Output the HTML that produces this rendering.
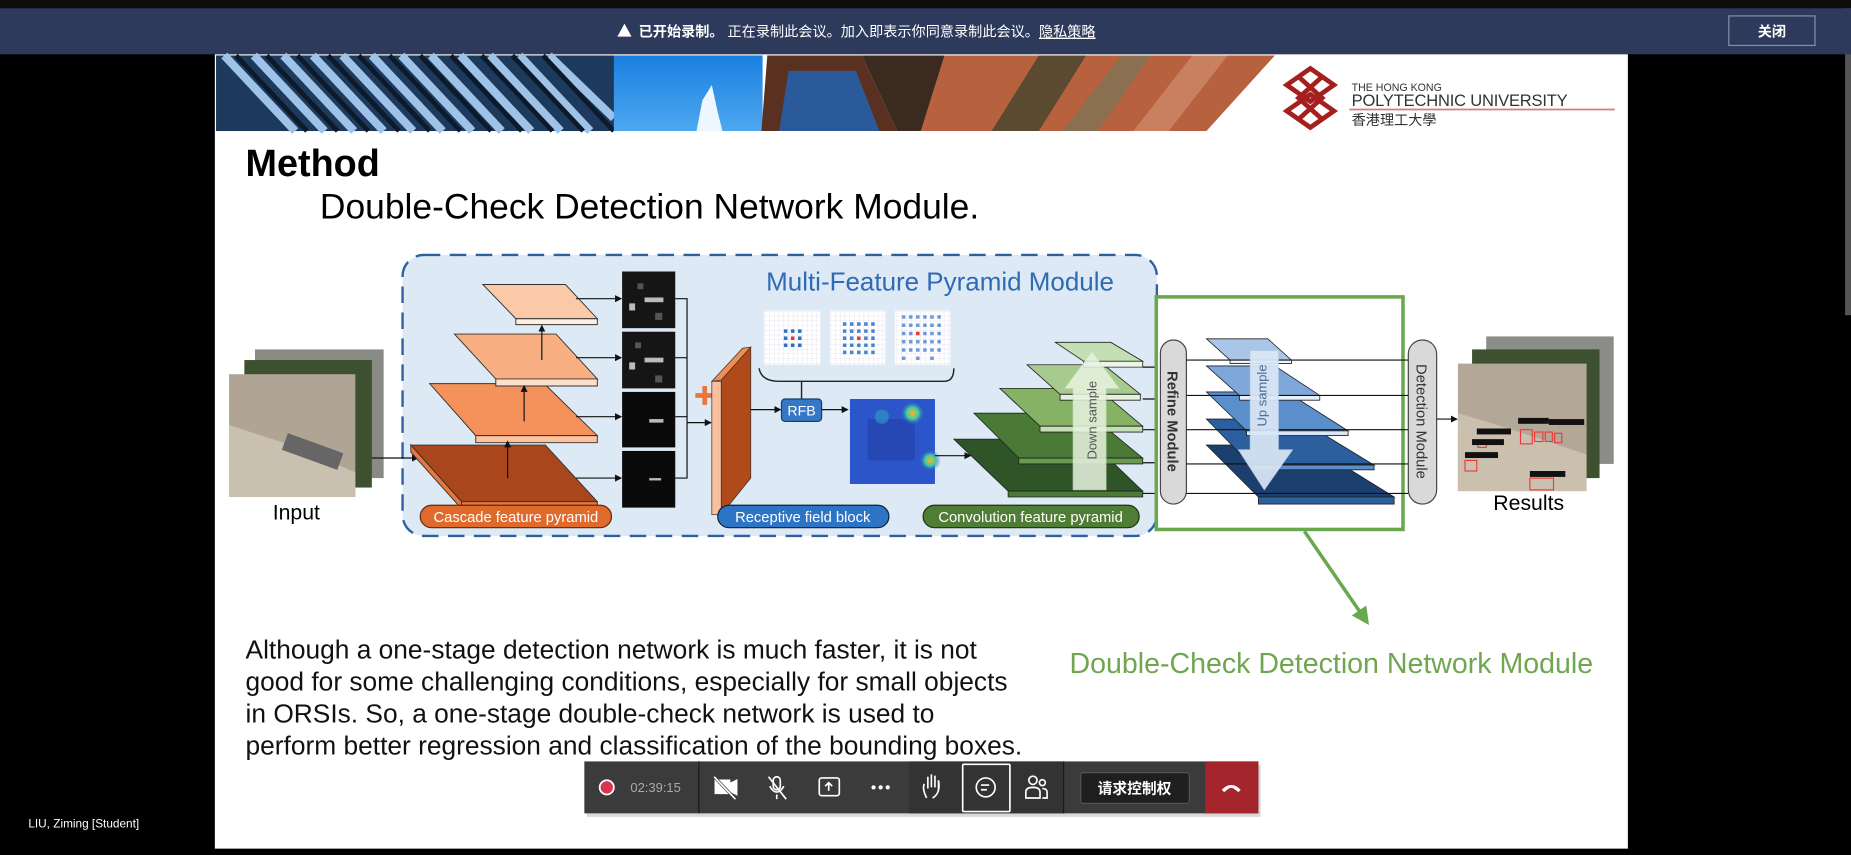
<!DOCTYPE html>
<html><head><meta charset="utf-8"><style>
html,body{margin:0;padding:0;background:#000;width:1851px;height:849px;overflow:hidden}
#w{width:1568px;height:719px;transform:scale(1.18048);transform-origin:0 0;position:absolute;left:0;top:0}
svg text{font-family:"Liberation Sans","Noto Sans CJK SC",sans-serif}
</style></head><body><div id="w">
<svg width="1568" height="719" viewBox="0 0 1568 719" xmlns="http://www.w3.org/2000/svg">
<defs>
<pattern id="grid" width="4" height="4" patternUnits="userSpaceOnUse"><rect width="4" height="4" fill="#fff"/><path d="M4 0V4H0" fill="none" stroke="#dde" stroke-width="0.6"/></pattern>
<radialGradient id="hb1" cx="0.5" cy="0.5" r="0.5"><stop offset="0" stop-color="#ffb020"/><stop offset="0.5" stop-color="#40d0a0"/><stop offset="1" stop-color="#2f5fd0" stop-opacity="0"/></radialGradient>
<linearGradient id="sky" x1="0" y1="0" x2="0" y2="1"><stop offset="0" stop-color="#1a7fe0"/><stop offset="1" stop-color="#4ea8f0"/></linearGradient>
<marker id="ar" markerWidth="6" markerHeight="6" refX="5" refY="3" orient="auto"><path d="M0 0L6 3L0 6Z" fill="#111"/></marker>
<marker id="ag" markerWidth="5" markerHeight="5" refX="4" refY="2.5" orient="auto"><path d="M0 0L5 2.5L0 5Z" fill="#6aa84f"/></marker>
</defs>
<rect width="1568" height="719" fill="#000"/>
<rect x="0" y="0" width="1568" height="7" fill="#0c0c0c"/>
<rect x="1563" y="7" width="5" height="260" fill="#555"/>
<rect x="0" y="7" width="1568" height="39" fill="#2e3a5c"/>
<path d="M523 31L529 20L535 31Z" fill="#fff"/>
<text x="541" y="31" font-size="12" fill="#fff"><tspan font-weight="bold">已开始录制。</tspan> 正在录制此会议。加入即表示你同意录制此会议。<tspan text-decoration="underline">隐私策略</tspan></text>
<rect x="1464.5" y="13.5" width="73" height="25" fill="none" stroke="#8890a8"/>
<text x="1501" y="31" font-size="12" fill="#fff" text-anchor="middle" font-weight="bold">关闭</text>
<rect x="182" y="46" width="1197" height="673" fill="#fff"/>
<rect x="183" y="47" width="340" height="64" fill="#1d3a5c"/>
<g stroke-width="7" fill="none">
<path d="M190 47L250 111M215 47L275 111M240 47L300 111M265 47L325 111M290 47L350 111M315 47L375 111M340 47L400 111M365 47L425 111M390 47L450 111M415 47L475 111M440 47L500 111M465 47L520 100" stroke="#9fc3e8"/>
<path d="M200 47L260 111M226 47L286 111M252 47L312 111M278 47L338 111M304 47L364 111M330 47L390 111M356 47L416 111M382 47L442 111M408 47L468 111M434 47L494 111M460 47L520 111" stroke="#0c1a2a" stroke-width="4"/>
</g>
<rect x="520" y="47" width="126" height="64" fill="url(#sky)"/>
<path d="M590 111L595 85L603 72L608 95L612 111Z" fill="#eef6ff"/>
<path d="M645 111L650 47L730 47L760 111Z" fill="#5a3020"/>
<path d="M660 111L668 60L725 60L745 111Z" fill="#2a5a9a"/>
<path d="M730 47L800 47L810 111L760 111Z" fill="#3a2a20"/>
<path d="M800 47L1080 47L1022 111L780 111Z" fill="#b8613e"/>
<path d="M840 111L880 47L920 47L880 111Z" fill="#5a4a30"/>
<path d="M900 111L950 47L975 47L930 111Z" fill="#8a7050"/>
<path d="M960 111L1010 47L1040 47L990 111Z" fill="#c98060"/>
<g fill="none" stroke="#a51f1f" stroke-width="4">
<path d="M1110 58L1130 72L1110 86L1090 72Z"/><path d="M1110 80L1130 94L1110 108L1090 94Z"/>
<path d="M1100 65L1120 83L1100 101M1120 65L1100 83L1120 101"/>
</g>
<text x="1145" y="77" font-size="9" fill="#333" font-family="Liberation Serif">THE HONG KONG</text>
<text x="1145" y="90" font-size="14" fill="#333" font-family="Liberation Serif" textLength="183">POLYTECHNIC UNIVERSITY</text>
<rect x="1143" y="92" width="225" height="1.5" fill="#d08080"/>
<text x="1145" y="106" font-size="12" fill="#333" font-family="Liberation Serif,Noto Serif CJK SC,serif">香港理工大學</text>
<text x="208" y="149" font-size="32" font-weight="bold" fill="#000">Method</text>
<text x="271" y="185" font-size="30" fill="#000">Double-Check Detection Network Module.</text>
<rect x="341" y="216" width="639" height="238" rx="18" fill="#dde9f5" stroke="#2e5fa0" stroke-width="2" stroke-dasharray="14 8"/>
<text x="649" y="246" font-size="22" fill="#2f6bb5">Multi-Feature Pyramid Module</text>
<rect x="216" y="296" width="109" height="109" fill="#8a8a85"/>
<rect x="207" y="305" width="108" height="108" fill="#3d5030"/>
<rect x="194" y="317" width="107" height="104" fill="#b0a594"/>
<path d="M194 360L240 375L301 400L301 421L194 421Z" fill="#c9c0b0"/>
<rect x="240" y="375" width="50" height="15" fill="#666" transform="rotate(20 265 382)"/>
<text x="231" y="440" font-size="18" fill="#000">Input</text>
<line x1="315" y1="388" x2="354" y2="388" stroke="#111" marker-end="url(#ar)"/>
<g stroke="#333" stroke-width="0.8">
<path d="M348 377L462 377L506 425L391 425Z" fill="#a9461c"/><path d="M391 425L506 425L506 431L391 431Z" fill="#e8763d"/><path d="M348 377L391 425L391 431L348 383Z" fill="#e8763d"/>
<path d="M364 325L461 325L506 369L403 369Z" fill="#f5925c"/><path d="M403 369L506 369L506 375L403 375Z" fill="#fbc39f"/>
<path d="M385 283L471 283L506 321L420 321Z" fill="#f8b083"/><path d="M420 321L506 321L506 327L420 327Z" fill="#fde0cc"/>
<path d="M409 241L479 241L506 270L437 270Z" fill="#fbc9a8"/><path d="M437 270L506 270L506 275L437 275Z" fill="#fff0e4"/>
</g>
<g stroke="#111" marker-end="url(#ar)"><line x1="430" y1="405" x2="430" y2="374"/><line x1="444" y1="357" x2="444" y2="327"/><line x1="459" y1="305" x2="459" y2="276"/></g>
<g stroke="#111" marker-end="url(#ar)"><line x1="488" y1="253" x2="526" y2="253"/><line x1="488" y1="303" x2="526" y2="303"/><line x1="488" y1="353" x2="526" y2="353"/><line x1="488" y1="405" x2="526" y2="405"/></g>
<rect x="527" y="230" width="45" height="48" fill="#151515"/><rect x="527" y="281" width="45" height="48" fill="#151515"/><rect x="527" y="332" width="45" height="47" fill="#0a0a0a"/><rect x="527" y="382" width="45" height="48" fill="#0a0a0a"/>
<g fill="#bbb"><rect x="546" y="252" width="16" height="4"/><rect x="533" y="257" width="5" height="6"/><rect x="546" y="303" width="16" height="4"/><rect x="533" y="307" width="5" height="6"/><rect x="550" y="355" width="12" height="3"/><rect x="550" y="405" width="10" height="2"/></g>
<g fill="#555"><rect x="540" y="240" width="5" height="5"/><rect x="555" y="265" width="6" height="6"/><rect x="538" y="290" width="5" height="5"/><rect x="555" y="318" width="6" height="6"/></g>
<path d="M572 253H582V405H572M572 303H582M572 353H582" fill="none" stroke="#111"/>
<line x1="582" y1="358" x2="602" y2="358" stroke="#111" marker-end="url(#ar)"/>
<path d="M589 333h6v-6h4v6h6v4h-6v6h-4v-6h-6Z" fill="#e8763d"/>
<path d="M603 323L611 322L636 294L629 295Z" fill="#f28c50" stroke="#333" stroke-width="0.6"/>
<rect x="603" y="323" width="8" height="113" fill="#f9c0a0" stroke="#333" stroke-width="0.6"/>
<path d="M611 322L636 294L636 405L611 436Z" fill="#b04a1b" stroke="#333" stroke-width="0.6"/>
<line x1="636" y1="347" x2="661" y2="347" stroke="#111" marker-end="url(#ar)"/>
<rect x="647" y="263" width="48" height="46" fill="url(#grid)"/><rect x="703" y="263" width="47" height="46" fill="url(#grid)"/><rect x="758" y="263" width="47" height="46" fill="url(#grid)"/>
<g fill="#2d6fc4">
<rect x="664" y="279" width="3" height="3"/><rect x="670" y="279" width="3" height="3"/><rect x="676" y="279" width="3" height="3"/><rect x="664" y="285" width="3" height="3"/><rect x="676" y="285" width="3" height="3"/><rect x="664" y="291" width="3" height="3"/><rect x="670" y="291" width="3" height="3"/><rect x="676" y="291" width="3" height="3"/>
</g>
<rect x="670" y="285" width="3" height="3" fill="#e33"/>
<g fill="#2d6fc4" opacity="0.85">
<path d="M714 273h3v3h-3zM720 273h3v3h-3zM726 273h3v3h-3zM732 273h3v3h-3zM738 273h3v3h-3zM714 279h3v3h-3zM720 279h3v3h-3zM726 279h3v3h-3zM732 279h3v3h-3zM738 279h3v3h-3zM714 285h3v3h-3zM720 285h3v3h-3zM732 285h3v3h-3zM738 285h3v3h-3zM714 291h3v3h-3zM720 291h3v3h-3zM726 291h3v3h-3zM732 291h3v3h-3zM738 291h3v3h-3zM714 297h3v3h-3zM720 297h3v3h-3zM726 297h3v3h-3zM732 297h3v3h-3zM738 297h3v3h-3z"/>
<path d="M764 267h3v3h-3zM770 267h3v3h-3zM776 267h3v3h-3zM782 267h3v3h-3zM788 267h3v3h-3zM794 267h3v3h-3zM764 274h3v3h-3zM770 274h3v3h-3zM776 274h3v3h-3zM782 274h3v3h-3zM788 274h3v3h-3zM794 274h3v3h-3zM764 281h3v3h-3zM770 281h3v3h-3zM782 281h3v3h-3zM788 281h3v3h-3zM794 281h3v3h-3zM764 288h3v3h-3zM770 288h3v3h-3zM776 288h3v3h-3zM782 288h3v3h-3zM788 288h3v3h-3zM794 288h3v3h-3zM764 295h3v3h-3zM770 295h3v3h-3zM776 295h3v3h-3zM782 295h3v3h-3zM788 295h3v3h-3zM794 295h3v3h-3zM764 302h3v3h-3zM776 302h3v3h-3zM788 302h3v3h-3z" opacity="0.8"/>
</g>
<rect x="726" y="285" width="3" height="3" fill="#e33"/><rect x="776" y="281" width="3" height="3" fill="#e33"/>
<path d="M643 312Q645 323 660 323H800Q808 323 808 312M679 323V338" fill="none" stroke="#222" stroke-width="1.2"/>
<rect x="662" y="338" width="34" height="19" rx="3" fill="#3478c6" stroke="#1d3d66"/>
<text x="679" y="352" font-size="12" fill="#fff" text-anchor="middle">RFB</text>
<line x1="696" y1="347" x2="718" y2="347" stroke="#111" marker-end="url(#ar)"/>
<rect x="720" y="338" width="72" height="72" fill="#2b55c8"/>
<rect x="735" y="355" width="40" height="35" fill="#2240a8" opacity="0.6"/>
<circle cx="773" cy="350" r="10" fill="url(#hb1)"/><circle cx="788" cy="390" r="9" fill="url(#hb1)"/><circle cx="747" cy="353" r="6" fill="#30a0c0" opacity="0.6"/>
<line x1="792" y1="386" x2="822" y2="386" stroke="#111" marker-end="url(#ar)"/>
<g stroke="#222" stroke-width="0.7">
<path d="M808 372L922 372L968 416L854 416Z" fill="#2e5427"/><path d="M854 416H968V421H854Z" fill="#4a7a35"/>
<path d="M825 350L922 350L968 388L863 388Z" fill="#4a7a35"/><path d="M863 388H968V393H863Z" fill="#6a9a50"/>
<path d="M847 329L930 329L968 361L881 361Z" fill="#86b266"/><path d="M881 361H968V366H881Z" fill="#c5dfb5"/>
<path d="M870 309L935 309L966 334L898 334Z" fill="#a7cb8e"/><path d="M898 334H966V339H898Z" fill="#e5f0dd"/>
<path d="M894 290L941 290L968 306L918 306Z" fill="#c5dfb5"/><path d="M918 306H968V311H918Z" fill="#eef6ea"/>
</g>
<path d="M909 415V329H902L925 298L948 329H937V415Z" fill="#e8f3e0" opacity="0.85" stroke="#cde3c0" stroke-width="0.6"/>
<text transform="translate(929 356) rotate(-90)" font-size="11" fill="#555" text-anchor="middle">Down sample</text>
<g stroke="#111"><line x1="968" y1="311" x2="982" y2="311"/><line x1="968" y1="338" x2="982" y2="338"/><line x1="968" y1="364" x2="982" y2="364"/><line x1="968" y1="392" x2="982" y2="392"/><line x1="968" y1="418" x2="982" y2="418"/></g>
<rect x="356" y="428" width="162" height="19" rx="9.5" fill="#e06a2c" stroke="#5a2a10"/>
<text x="437" y="442" font-size="12.5" fill="#fff" text-anchor="middle">Cascade feature pyramid</text>
<rect x="608" y="428" width="145" height="19" rx="9.5" fill="#2d74c4" stroke="#123"/>
<text x="680" y="442" font-size="12.5" fill="#fff" text-anchor="middle">Receptive field block</text>
<rect x="782" y="428" width="183" height="19" rx="9.5" fill="#4f7d35" stroke="#1c3310"/>
<text x="873" y="442" font-size="12.5" fill="#fff" text-anchor="middle">Convolution feature pyramid</text>
<rect x="979.5" y="251.5" width="209" height="197" fill="#fff" stroke="#6aa84f" stroke-width="3"/>
<rect x="983" y="288" width="22" height="139" rx="11" fill="#d9d9d9" stroke="#444"/>
<text transform="translate(989 357) rotate(90)" font-size="12.5" font-weight="bold" fill="#333" text-anchor="middle">Refine Module</text>
<g stroke="#222" stroke-width="0.7">
<path d="M1022 377L1110 377L1181 421L1066 421Z" fill="#1b3f6e"/><path d="M1066 421H1181V427H1066Z" fill="#2c5f9e"/>
<path d="M1022 355L1100 355L1164 394L1060 394Z" fill="#2c5f9e"/><path d="M1060 394H1164V398H1060Z" fill="#5b8fcc"/>
<path d="M1022 332L1090 332L1142 365L1056 365Z" fill="#5b8fcc"/><path d="M1056 365H1142V369H1056Z" fill="#d8e6f6"/>
<path d="M1022 310L1080 310L1118 335L1050 335Z" fill="#7fa7d9"/><path d="M1050 335H1118V339H1050Z" fill="#e8f0fa"/>
<path d="M1022 287L1074 287L1094 305L1042 305Z" fill="#a9c6e8"/><path d="M1042 305H1094V308H1042Z" fill="#eef4fb"/>
</g>
<g stroke="#111"><line x1="1005" y1="305" x2="1193" y2="305"/><line x1="1005" y1="335" x2="1193" y2="335"/><line x1="1005" y1="364" x2="1193" y2="364"/><line x1="1005" y1="393" x2="1193" y2="393"/><line x1="1005" y1="418" x2="1193" y2="418"/></g>
<path d="M1059 297H1083V381H1095L1071 415L1049 381H1059Z" fill="#dbe8f7" opacity="0.92" stroke="#b8cfe8" stroke-width="0.6"/>
<text transform="translate(1073 335) rotate(-90)" font-size="11" fill="#4a6a90" text-anchor="middle">Up sample</text>
<rect x="1193" y="288" width="24" height="139" rx="12" fill="#d9d9d9" stroke="#444"/>
<text transform="translate(1200 357) rotate(90)" font-size="12.5" fill="#333" text-anchor="middle">Detection Module</text>
<line x1="1217" y1="355" x2="1234" y2="355" stroke="#111" marker-end="url(#ar)"/>
<rect x="1259" y="285" width="108" height="108" fill="#8c8c88"/>
<rect x="1247" y="296" width="108" height="109" fill="#3d5030"/>
<rect x="1235" y="308" width="109" height="108" fill="#b3a898"/>
<path d="M1235 350L1275 362L1344 385L1344 416L1235 416Z" fill="#cbbfae"/>
<g fill="none" stroke="#e33" stroke-width="0.9"><rect x="1288" y="364" width="10" height="12"/><rect x="1300" y="366" width="7" height="8"/><rect x="1309" y="366" width="6" height="8"/><rect x="1317" y="367" width="6" height="8"/><rect x="1252" y="373" width="7" height="6"/><rect x="1241" y="390" width="10" height="9"/><rect x="1296" y="405" width="20" height="10"/></g>
<g fill="#111"><rect x="1286" y="354" width="26" height="5"/><rect x="1312" y="355" width="30" height="5"/><rect x="1251" y="363" width="29" height="5"/><rect x="1247" y="372" width="27" height="5"/><rect x="1241" y="383" width="28" height="5"/><rect x="1296" y="399" width="30" height="5"/></g>
<text x="1265" y="432" font-size="18" fill="#000">Results</text>
<line x1="1105" y1="450" x2="1158" y2="527" stroke="#6aa84f" stroke-width="3" marker-end="url(#ag)"/>
<g font-size="22.3" fill="#111">
<text x="208" y="558">Although a one-stage detection network is much faster, it is not</text>
<text x="208" y="585">good for some challenging conditions, especially for small objects</text>
<text x="208" y="612">in ORSIs. So, a one-stage double-check network is used to</text>
<text x="208" y="639">perform better regression and classification of the bounding boxes.</text>
</g>
<text x="906" y="570" font-size="24.2" fill="#70a64f">Double-Check Detection Network Module</text>
<rect x="497" y="648" width="571" height="44" fill="#000" opacity="0.15"/>
<rect x="495" y="645" width="571" height="44" fill="#3b3b3b"/>
<rect x="770" y="645" width="131" height="44" fill="#333"/>
<line x1="592" y1="645" x2="592" y2="689" stroke="#1a1a1a"/><line x1="901" y1="645" x2="901" y2="689" stroke="#1a1a1a"/>
<circle cx="514" cy="667" r="6" fill="#d93550" stroke="#fff" stroke-width="1.5"/>
<text x="534" y="671" font-size="11" fill="#aaa">02:39:15</text>
<g fill="none" stroke="#fff" stroke-width="1.4">
<rect x="606" y="661" width="12" height="11" fill="#fff"/><path d="M618 664L624 661V673L618 670Z" fill="#fff"/><line x1="605" y1="658" x2="623" y2="677" stroke="#3b3b3b" stroke-width="2.5"/><line x1="605" y1="658" x2="623" y2="677"/>
<rect x="655" y="658" width="6" height="11" rx="3"/><path d="M652 666Q658 676 664 666M658 673V677"/><line x1="651" y1="658" x2="666" y2="677"/>
<rect x="694" y="659" width="17" height="15" rx="2"/><path d="M702 670V663M699 666L702 663L705 666"/>
<path d="M785 676Q781 668 783 664M786 668V658M789 667V656M792 667V657M795 670V661Q797 672 790 676"/>
<rect x="815.5" y="647.5" width="40" height="40" rx="1" stroke="#fff"/>
<circle cx="835" cy="667" r="8"/><path d="M831 665h7M831 669h5"/>
<circle cx="875" cy="661" r="3.5"/><path d="M869 676V671Q869 667 875 667Q881 667 881 671V676Z"/><circle cx="883" cy="663" r="2.5"/><path d="M883 676H887V671Q887 668 883 668"/>
</g>
<g fill="#fff"><circle cx="740" cy="667" r="1.8"/><circle cx="746" cy="667" r="1.8"/><circle cx="752" cy="667" r="1.8"/></g>
<rect x="915.5" y="654.5" width="92" height="26" rx="2" fill="#1f1f1f" stroke="#555"/>
<text x="961" y="672" font-size="12.5" fill="#fff" text-anchor="middle" font-weight="bold">请求控制权</text>
<rect x="1021" y="645" width="45" height="44" fill="#a4262c"/>
<path d="M1035 669Q1043 661 1051 669L1049 671L1045 668Q1043 667 1041 668L1037 671Z" fill="#fff"/>
<text x="24" y="701" font-size="10" fill="#fff">LIU, Ziming [Student]</text>
</svg>
</div></body></html>
